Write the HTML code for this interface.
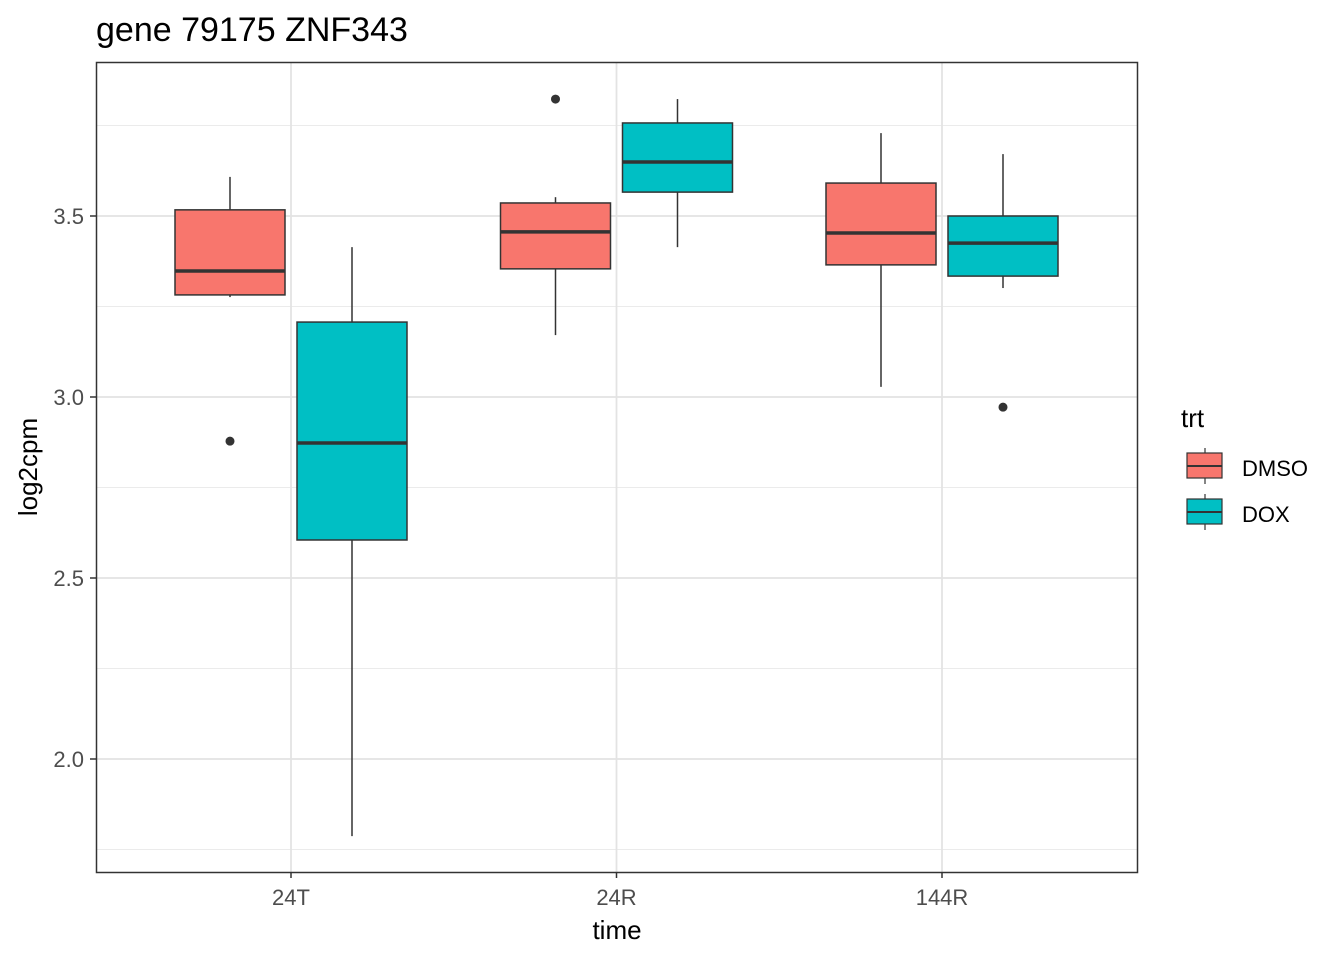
<!DOCTYPE html>
<html><head><meta charset="utf-8"><style>
body{margin:0;background:#fff;font-family:"Liberation Sans",Arial,sans-serif}
svg text{font-family:"Liberation Sans",Arial,sans-serif}
</style></head><body>
<svg id="chart" width="1344" height="960" xmlns="http://www.w3.org/2000/svg">
<text x="96" y="41" font-size="34" fill="#000">gene 79175 ZNF343</text>
<g id="grid"></g>
<g id="boxes"></g>
<rect x="96.5" y="62.5" width="1041" height="810" fill="none" stroke="#333" stroke-width="1.5"/>
<g id="axes"></g>
<text x="617" y="939" font-size="26" text-anchor="middle" fill="#000">time</text>
<text transform="translate(37,467) rotate(-90)" font-size="26" text-anchor="middle" fill="#000">log2cpm</text>
<g>
<text x="1181" y="427" font-size="26" fill="#000">trt</text>
<g>
<line x1="1205" y1="448" x2="1205" y2="484" stroke="#333" stroke-width="1.2"/>
<rect x="1187" y="453" width="35" height="25" fill="#F8766D" stroke="#333" stroke-width="1.2"/>
<line x1="1187" y1="466" x2="1222" y2="466" stroke="#333" stroke-width="2"/>
<text x="1242" y="476" font-size="22" fill="#000">DMSO</text></g>
<g>
<line x1="1205" y1="494" x2="1205" y2="530" stroke="#333" stroke-width="1.2"/>
<rect x="1187" y="499" width="35" height="25" fill="#00BFC4" stroke="#333" stroke-width="1.2"/>
<line x1="1187" y1="512" x2="1222" y2="512" stroke="#333" stroke-width="2"/>
<text x="1242" y="522" font-size="22" fill="#000">DOX</text></g>
</g>
</svg>
<script>
const categories=["24T","24R","144R"];
const groups=["DMSO","DOX"];
const colors=["#F8766D","#00BFC4"];
const yTicks=[2.0,2.5,3.0,3.5];
const yMinor=[1.75,2.25,2.75,3.25,3.75];
// [lowerWhisker, Q1, median, Q3, upperWhisker] per category for each group
const dmsoStats=[[3.276,3.282,3.348,3.517,3.608],[3.171,3.354,3.456,3.536,3.552],[3.028,3.365,3.453,3.591,3.729]];
const doxStats=[[1.787,2.605,2.873,3.207,3.414],[3.414,3.566,3.649,3.757,3.823],[3.301,3.334,3.425,3.5,3.671]];
const dmsoOutliers=[[2.878],[3.823],[]];
const doxOutliers=[[],[],[2.972]];

const NS="http://www.w3.org/2000/svg";
function y(v){return 397-(v-3)*362;}
function x(i){return 291+i*325.5;}
function mk(parent,tag,attrs){const e=document.createElementNS(NS,tag);for(const k in attrs)e.setAttribute(k,attrs[k]);parent.appendChild(e);return e;}
const grid=document.getElementById('grid'),boxes=document.getElementById('boxes'),axes=document.getElementById('axes');
yMinor.forEach(v=>{const l=mk(grid,'line',{x1:96,x2:1138,y1:y(v),y2:y(v),stroke:'#EBEBEB','stroke-width':1});

});
yTicks.forEach(v=>{const l=mk(grid,'line',{x1:96,x2:1138,y1:y(v),y2:y(v),stroke:'#E3E3E3','stroke-width':1.8});


mk(axes,'line',{x1:90,x2:96,y1:y(v),y2:y(v),stroke:'#333','stroke-width':1.5});
const t=mk(axes,'text',{x:84,y:y(v)+8,'font-size':22,'text-anchor':'end',fill:'#4D4D4D'});t.textContent=v.toFixed(1);

});
categories.forEach((c,i)=>{const l=mk(grid,'line',{x1:x(i),x2:x(i),y1:62,y2:872,stroke:'#E3E3E3','stroke-width':1.8});


mk(axes,'line',{x1:x(i),x2:x(i),y1:872,y2:878,stroke:'#333','stroke-width':1.5});
const t=mk(axes,'text',{x:x(i),y:905,'font-size':22,'text-anchor':'middle',fill:'#4D4D4D'});t.textContent=c;

});
[dmsoStats,doxStats].forEach((stats,g)=>{
 const outs=g===0?dmsoOutliers:doxOutliers;
 stats.forEach((s,i)=>{
  const cx=x(i)+(g===0?-61:61),hw=55;
  const grp=mk(boxes,'g',{});
  
  
  mk(grp,'line',{x1:cx,x2:cx,y1:y(s[4]),y2:y(s[3]),stroke:'#333','stroke-width':1.5});
  mk(grp,'line',{x1:cx,x2:cx,y1:y(s[1]),y2:y(s[0]),stroke:'#333','stroke-width':1.5});
  mk(grp,'rect',{x:cx-hw,y:y(s[3]),width:2*hw,height:y(s[1])-y(s[3]),fill:colors[g],stroke:'#333','stroke-width':1.5});
  mk(grp,'line',{x1:cx-hw,x2:cx+hw,y1:y(s[2]),y2:y(s[2]),stroke:'#333','stroke-width':3.5});
  outs[i].forEach(o=>{const p=mk(grp,'circle',{cx:cx,cy:y(o),r:4.5,fill:'#333'});
   
   });
 });
});
</script>
</body></html>
